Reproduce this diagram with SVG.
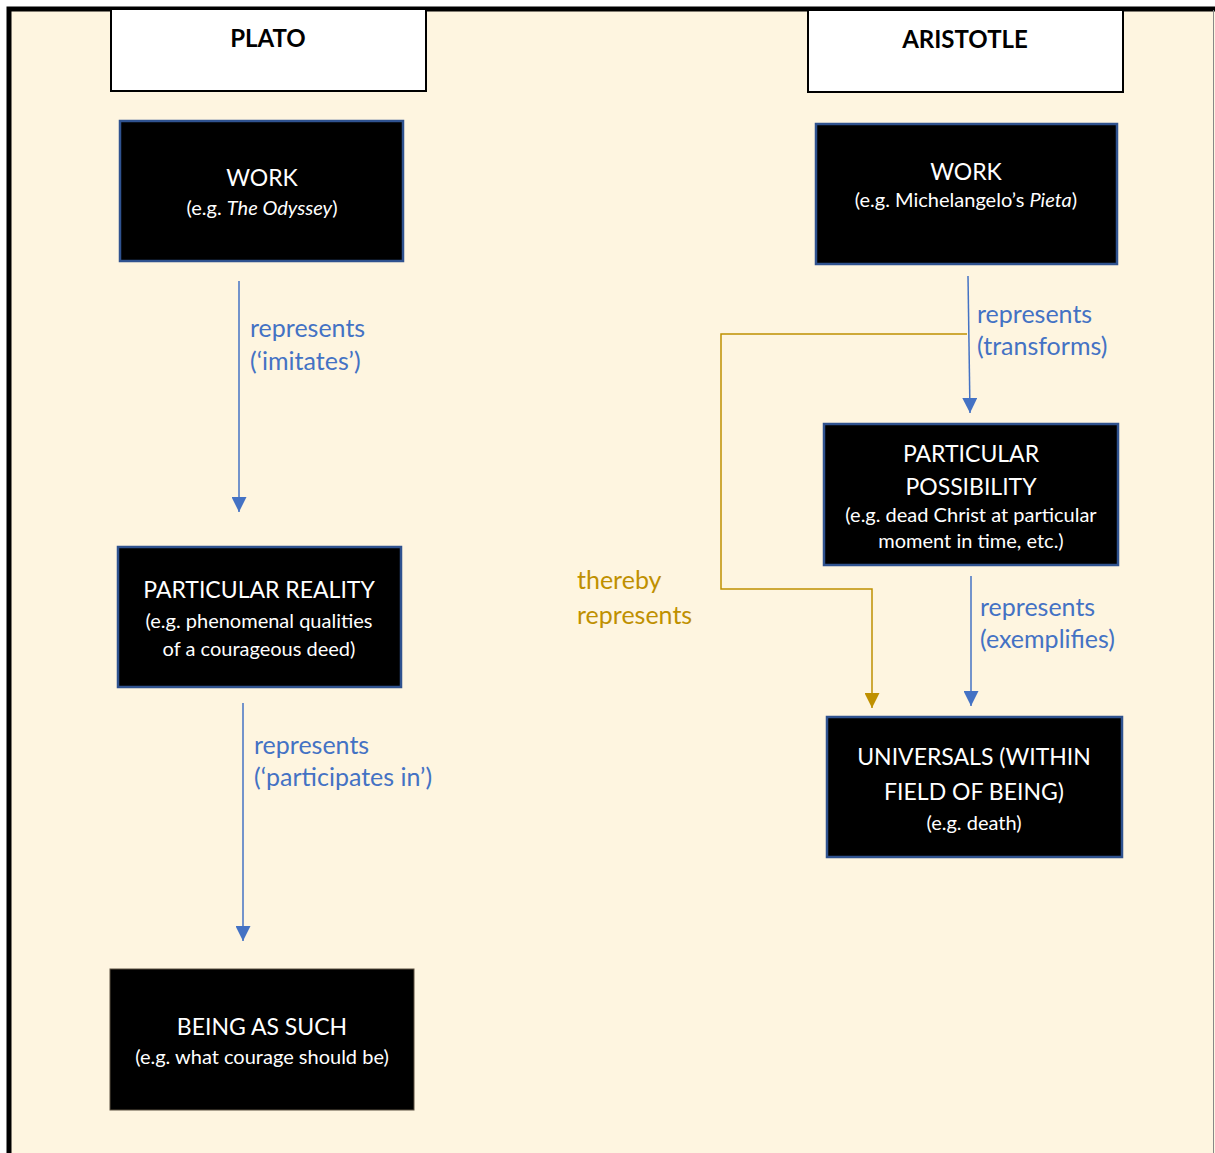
<svg xmlns="http://www.w3.org/2000/svg" width="1215" height="1153" viewBox="0 0 1215 1153">
<style>
.hdr{fill:#fff;stroke:#000;stroke-width:2}
.box{fill:#000;stroke:#2F528F;stroke-width:2.5}
.ht{font-family:Lato,"Open Sans",sans-serif;font-weight:bold;font-size:24px;fill:#000;text-anchor:middle}
.t1{font-family:Lato,"Open Sans",sans-serif;font-size:23px;fill:#fff;text-anchor:middle}
.t2{font-family:Lato,"Open Sans",sans-serif;font-size:20px;fill:#fff;text-anchor:middle}
.lb{font-family:Lato,"Open Sans",sans-serif;font-size:25px;fill:#4472C4}
.lg{font-family:Lato,"Open Sans",sans-serif;font-size:25px;fill:#BF9000}
.cb{stroke:#4472C4;stroke-width:1.5;fill:none}
.cg{stroke:#BF9000;stroke-width:1.5;fill:none}
</style>
<defs>
<marker id="ab" markerWidth="15" markerHeight="15" refX="15" refY="7.5" orient="auto" markerUnits="userSpaceOnUse" viewBox="0 0 15 15"><path d="M0,0 L15,7.5 L0,15 Z" fill="#4472C4"/></marker>
<marker id="ag" markerWidth="15" markerHeight="15" refX="15" refY="7.5" orient="auto" markerUnits="userSpaceOnUse" viewBox="0 0 15 15"><path d="M0,0 L15,7.5 L0,15 Z" fill="#BF9000"/></marker>
</defs>
<rect x="0" y="0" width="1215" height="1153" fill="#fff"/>
<rect x="9" y="9" width="1215" height="1160" fill="#FEF5E0"/>
<path d="M9,1153 V9 H1215" stroke="#000" stroke-width="5" fill="none"/>
<line x1="1213.5" y1="10" x2="1213.5" y2="1153" stroke="#888" stroke-width="1"/>

<g id="plato-header"><rect class="hdr" x="111" y="9" width="315" height="82"/><text class="ht" x="268" y="47">PLATO</text></g>
<g id="aristotle-header"><rect class="hdr" x="808" y="10" width="315" height="82"/><text class="ht" x="965" y="48">ARISTOTLE</text></g>

<g id="plato-work"><rect class="box" x="120" y="121" width="283" height="140"/>
<text class="t1" x="262" y="186">WORK</text>
<text class="t2" x="262" y="215">(e.g. <tspan font-style="italic">The Odyssey</tspan>)</text></g>

<g id="particular-reality"><rect class="box" x="118" y="547" width="283" height="140"/>
<text class="t1" x="259" y="598">PARTICULAR REALITY</text>
<text class="t2" x="259" y="628">(e.g. phenomenal qualities</text>
<text class="t2" x="259" y="656">of a courageous deed)</text></g>

<g id="being-as-such"><rect x="110" y="969" width="304" height="141" fill="#000" stroke="#5a5040" stroke-width="1"/>
<text class="t1" x="262" y="1035">BEING AS SUCH</text>
<text class="t2" x="262" y="1064">(e.g. what courage should be)</text></g>

<g id="aristotle-work"><rect class="box" x="816" y="124" width="301" height="140"/>
<text class="t1" x="966" y="180">WORK</text>
<text class="t2" x="966" y="207">(e.g. Michelangelo’s <tspan font-style="italic">Pieta</tspan>)</text></g>

<g id="particular-possibility"><rect class="box" x="824" y="424" width="294" height="141"/>
<text class="t1" x="971" y="462">PARTICULAR</text>
<text class="t1" x="971" y="495">POSSIBILITY</text>
<text class="t2" x="971" y="522">(e.g. dead Christ at particular</text>
<text class="t2" x="971" y="548">moment in time, etc.)</text></g>

<g id="universals"><rect class="box" x="827" y="717" width="295" height="140"/>
<text class="t1" x="974" y="765">UNIVERSALS (WITHIN</text>
<text class="t1" x="974" y="800">FIELD OF BEING)</text>
<text class="t2" x="974" y="830">(e.g. death)</text></g>

<g id="connectors">
<line class="cb" x1="239" y1="281" x2="239" y2="512" marker-end="url(#ab)"/>
<line class="cb" x1="243" y1="703" x2="243" y2="941" marker-end="url(#ab)"/>
<line class="cb" x1="968" y1="276" x2="970" y2="413" marker-end="url(#ab)"/>
<line class="cb" x1="971" y1="576" x2="971" y2="706" marker-end="url(#ab)"/>
<path class="cg" d="M967,334 H721 V589 H872 V708" marker-end="url(#ag)"/>
<text class="lb" x="250" y="337">represents</text>
<text class="lb" x="250" y="370">(‘imitates’)</text>
<text class="lb" x="254" y="754">represents</text>
<text class="lb" x="254" y="786">(‘participates in’)</text>
<text class="lb" x="977" y="323">represents</text>
<text class="lb" x="977" y="355">(transforms)</text>
<text class="lb" x="980" y="616">represents</text>
<text class="lb" x="980" y="648">(exemplifies)</text>
<text class="lg" x="577" y="589">thereby</text>
<text class="lg" x="577" y="624">represents</text>
</g>
</svg>
